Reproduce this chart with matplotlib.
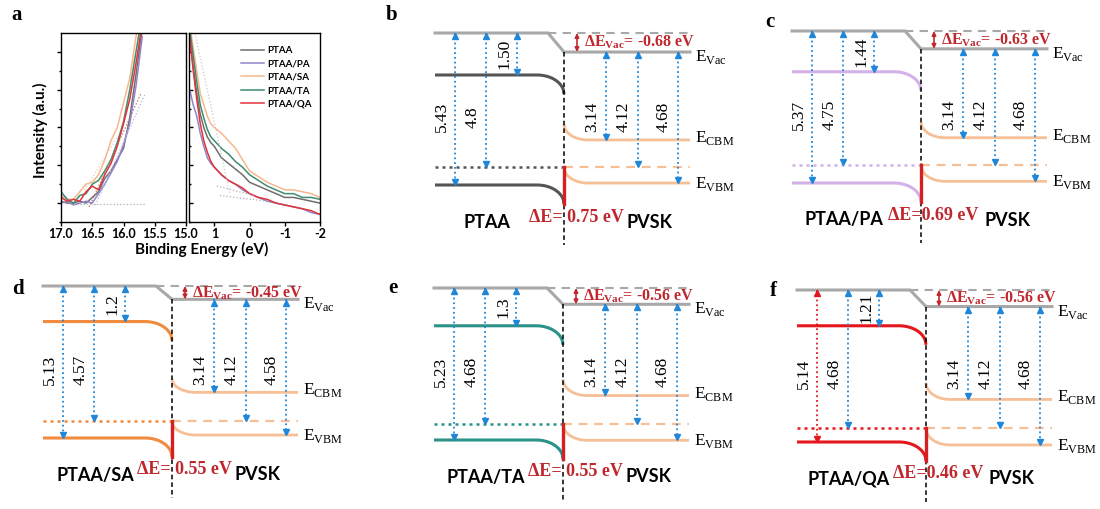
import numpy as np
import matplotlib
matplotlib.use("Agg")
import matplotlib.pyplot as plt

plt.rcParams["mathtext.fontset"] = "custom"
plt.rcParams["mathtext.rm"] = "Liberation Serif"
plt.rcParams["mathtext.bf"] = "Liberation Serif:bold"

SANS = "Lato"
SERIF = "Liberation Serif"

# ---------------- panel a data (UPS spectra) ----------------
series = ["PTAA", "PTAA/PA", "PTAA/SA", "PTAA/TA", "PTAA/QA"]
series_colors = ["#6e6e6e", "#8f86cc", "#f6b78e", "#3f8c70", "#e2333b"]

cutoff_x = [17.0, 16.9, 16.8, 16.7, 16.6, 16.5, 16.4, 16.3, 16.2, 16.1, 16.0, 15.9, 15.8, 15.7]
cutoff_y = {
    "PTAA":    [0.11, 0.10, 0.10, 0.11, 0.10, 0.13, 0.16, 0.23, 0.27, 0.33, 0.39, 0.55, 0.78, 1.02],
    "PTAA/PA": [0.10, 0.11, 0.09, 0.10, 0.11, 0.10, 0.15, 0.20, 0.26, 0.32, 0.41, 0.52, 0.72, 0.98],
    "PTAA/SA": [0.14, 0.12, 0.12, 0.16, 0.20, 0.21, 0.25, 0.33, 0.43, 0.50, 0.63, 0.76, 0.98, 1.20],
    "PTAA/TA": [0.16, 0.12, 0.10, 0.14, 0.15, 0.20, 0.22, 0.27, 0.33, 0.42, 0.53, 0.70, 0.90, 1.10],
    "PTAA/QA": [0.13, 0.11, 0.12, 0.11, 0.16, 0.19, 0.17, 0.25, 0.31, 0.40, 0.52, 0.65, 0.84, 1.05],
}

onset_x = [1.7, 1.6, 1.5, 1.4, 1.3, 1.2, 1.1, 1.0, 0.8, 0.6, 0.4, 0.2, 0.0,
           -0.25, -0.5, -0.75, -1.0, -1.25, -1.5, -1.75, -2.0]
onset_y = {
    "PTAA":    [0.98, 0.82, 0.68, 0.57, 0.50, 0.45, 0.42, 0.40, 0.34, 0.31, 0.28, 0.25, 0.21,
                0.19, 0.17, 0.15, 0.13, 0.13, 0.12, 0.11, 0.10],
    "PTAA/PA": [0.70, 0.62, 0.56, 0.47, 0.40, 0.34, 0.31, 0.29, 0.25, 0.22, 0.20, 0.17, 0.15,
                0.13, 0.11, 0.10, 0.09, 0.08, 0.07, 0.05, 0.04],
    "PTAA/SA": [1.05, 0.92, 0.80, 0.68, 0.62, 0.56, 0.52, 0.50, 0.47, 0.43, 0.39, 0.33, 0.27,
                0.24, 0.21, 0.19, 0.17, 0.17, 0.16, 0.15, 0.13],
    "PTAA/TA": [1.02, 0.88, 0.74, 0.62, 0.55, 0.49, 0.45, 0.43, 0.39, 0.36, 0.32, 0.29, 0.25,
                0.22, 0.19, 0.17, 0.15, 0.15, 0.13, 0.13, 0.12],
    "PTAA/QA": [0.98, 0.80, 0.65, 0.52, 0.43, 0.37, 0.32, 0.29, 0.25, 0.22, 0.20, 0.18, 0.15,
                0.13, 0.12, 0.10, 0.09, 0.08, 0.07, 0.06, 0.04],
}

# dotted fit lines: (x0, y0, x1, y1, colour)
cutoff_fits = [(16.85, 0.095, 15.65, 0.095, "#b0b0b0"),
               (16.55, 0.08, 15.72, 0.68, "#b07060"),
               (16.45, 0.09, 15.65, 0.68, "#b8b4e0"),
               (16.62, 0.17, 16.10, 0.45, "#f6c8aa")]
onset_fits = [(0.93, 0.19, -0.14, 0.14, "#b0b0b0"),
              (0.84, 0.14, -0.50, 0.11, "#b0b0b0"),
              (1.55, 1.00, 0.56, 0.15, "#c8c8c8")]

# ---------------- panels b-f data (energy levels, eV) ----------------
panel_letters = ["b", "c", "d", "e", "f"]
htl_names = ["PTAA", "PTAA/PA", "PTAA/SA", "PTAA/TA", "PTAA/QA"]
htl_colors = ["#555555", "#d3b1e8", "#f08a3c", "#2b928a", "#e5161c"]
homo = [5.43, 5.37, 5.13, 5.23, 5.14]
homo_lbl = ["5.43", "5.37", "5.13", "5.23", "5.14"]
fermi = [4.8, 4.75, 4.57, 4.68, 4.68]
fermi_lbl = ["4.8", "4.75", "4.57", "4.68", "4.68"]
lumo = [1.50, 1.44, 1.2, 1.3, 1.21]
lumo_lbl = ["1.50", "1.44", "1.2", "1.3", "1.21"]
dvac = [-0.68, -0.63, -0.45, -0.56, -0.56]
dvac_lbl = ["-0.68", "-0.63", "-0.45", "-0.56", "-0.56"]
de_lbl = ["ΔE= 0.75 eV", "ΔE=0.69 eV", "ΔE= 0.55 eV", "ΔE= 0.55 eV", "ΔE=0.46 eV"]
pvsk_cbm = [3.14, 3.14, 3.14, 3.14, 3.14]
pvsk_fermi = [4.12, 4.12, 4.12, 4.12, 4.12]
pvsk_vbm = [4.68, 4.68, 4.58, 4.68, 4.68]
pvsk_vbm_lbl = ["4.68", "4.68", "4.58", "4.68", "4.68"]

# pixel anchors (left end of vacuum line) for each diagram
anchors = [(435, 33), (792, 31), (43, 286), (434, 288), (797, 290)]
letter_pos = [(392, 15), (770, 22), (18, 289), (393, 288), (773, 291)]

W, H = 1100, 509
fig = plt.figure(figsize=(11, 5.09), dpi=100)


def px_axes(x0, y0, x1, y1):
    return fig.add_axes([x0 / W, 1 - y1 / H, (x1 - x0) / W, (y1 - y0) / H])


# ---------------- panel a ----------------
axl = px_axes(61, 33, 186, 222)
axr = px_axes(189, 33, 320, 222)
for name, col in zip(series, series_colors):
    axl.plot(cutoff_x, cutoff_y[name], color=col, lw=1.1)
    axr.plot(onset_x, onset_y[name], color=col, lw=1.1, label=name)
for x0, y0, x1, y1, c in cutoff_fits:
    axl.plot([x0, x1], [y0, y1], ls=":", lw=0.9, color=c)
for x0, y0, x1, y1, c in onset_fits:
    axr.plot([x0, x1], [y0, y1], ls=":", lw=0.9, color=c)

axl.set_xlim(17.0, 15.0)
axr.set_xlim(1.72, -2.0)
for ax in (axl, axr):
    ax.set_ylim(0, 1)
    ax.set_yticks(np.arange(0.1, 1.0, 0.2))
    ax.set_yticks(np.arange(0.0, 1.0, 0.1), minor=True)
    ax.set_yticklabels([])
    for sp in ax.spines.values():
        sp.set_linewidth(1.0)
    ax.tick_params(axis="x", direction="out", length=3, width=1, pad=1)
axl.set_xticks([17.0, 16.5, 16.0, 15.5, 15.0])
axl.set_xticklabels(["17.0", "16.5", "16.0", "15.5", "15.0"], fontfamily=SANS,
                    fontweight="bold", fontsize=9)
axr.set_xticks([1, 0, -1, -2])
axr.set_xticklabels(["1", "0", "-1", "-2"], fontfamily=SANS, fontweight="bold", fontsize=9)
axl.tick_params(axis="y", which="both", direction="out", length=3, width=1)
axl.tick_params(axis="y", which="minor", length=1.5)
axr.tick_params(axis="y", which="both", direction="in", length=3, width=1)
axr.tick_params(axis="y", which="minor", length=1.5)
axr.legend(loc="upper left", bbox_to_anchor=((241 - 189) / 131, 1 - (46 - 33) / 189),
           frameon=False, handlelength=2.4, handletextpad=0.3,
           labelspacing=0.45, borderaxespad=0, borderpad=0,
           prop={"family": SANS, "weight": "bold", "size": 7})

fig.text(17 / W, 1 - 15 / H, "a", fontfamily=SERIF, fontweight="bold", fontsize=15,
         ha="center", va="center")
fig.text(40 / W, 1 - 130 / H, "Intensity (a.u.)", rotation=90, fontfamily=SANS,
         fontweight="bold", fontsize=11, ha="center", va="center")
fig.text(202 / W, 1 - 249 / H, "Binding Energy (eV)", fontfamily=SANS,
         fontweight="bold", fontsize=11, ha="center", va="center")

# ---------------- panels b-f ----------------
X_IF, X_END = 129, 255
X_BEND_L, X_BEND_R = 102, 153
X_SLOPE = 113
ARROW_X = [20, 51, 82, 171, 203, 243]
BLUE = "#1f86d8"
RED = "#c0272d"
VAC = "#a8a8a8"
PVSK = "#f6bf96"


def left_band(ax, e, bend, **kw):
    t = np.linspace(0, 1, 40)
    xs = np.concatenate([[0], X_BEND_L + (X_IF - X_BEND_L) * t])
    ys = np.concatenate([[e], e - bend * (1 - np.sqrt(1 - t ** 2))])
    ax.plot(xs, ys, solid_capstyle="butt", **kw)


def right_band(ax, e, bend, **kw):
    t = np.linspace(0, 1, 40)
    xs = np.concatenate([X_IF + (X_BEND_R - X_IF) * t, [X_END]])
    ys = np.concatenate([e + bend * (1 - np.sqrt(1 - (1 - t) ** 2)), [e]])
    ax.plot(xs, ys, solid_capstyle="butt", **kw)


def varrow(ax, x, y_top, y_bot, s, color):
    ax.plot([x, x], [y_top, y_bot], ls=":", lw=1.3, color=color)
    ax.plot([x], [y_top - 3.2 / s], marker="^", ms=4.5, color=color, mec=color)
    ax.plot([x], [y_bot + 3.2 / s], marker="v", ms=4.5, color=color, mec=color)


def vlabel(ax, x, y, txt):
    ax.text(x, y, txt, rotation=90, fontfamily=SERIF, fontsize=12.5,
            ha="center", va="center")


for i in range(5):
    x0, y0 = anchors[i]
    s = 152.0 / homo[i]          # px per eV
    y_bot = min(y0 + 215, H)
    ax = px_axes(x0 - 40, y0 - 35, x0 + 310, y_bot)
    ax.set_xlim(-40, 310)
    ax.set_ylim(-(y_bot - y0) / s, 35 / s)
    ax.axis("off")

    dv = dvac[i]
    bend_l = 19 / s
    col = htl_colors[i]
    r_cbm = dv - pvsk_cbm[i]
    r_ef = dv - pvsk_fermi[i]
    r_vbm = dv - pvsk_vbm[i]
    bend_r = r_ef - r_vbm

    # vacuum level
    ax.plot([0, X_SLOPE, X_IF, X_END], [0, 0, dv, dv], color=VAC, lw=2.2,
            solid_joinstyle="miter")
    ax.plot([X_SLOPE, X_END], [0, 0], color=VAC, lw=1.5, ls=(0, (4, 3)))

    # HTL levels
    left_band(ax, -lumo[i], bend_l, color=col, lw=2.2)
    left_band(ax, -homo[i], bend_l, color=col, lw=2.2)
    ax.plot([0, X_IF], [-fermi[i], -fermi[i]], color=col, lw=1.8, ls=(0, (1.2, 1.6)))

    # perovskite levels
    right_band(ax, r_cbm, bend_r, color=PVSK, lw=2.0)
    right_band(ax, r_vbm, bend_r, color=PVSK, lw=2.0)
    ax.plot([X_IF, X_END], [r_ef, r_ef], color=PVSK, lw=1.6, ls=(0, (4, 3)))

    # interface
    ax.plot([X_IF, X_IF], [dv, -212 / s], color="black", lw=1.1, ls=(0, (3, 2)))
    ax.plot([X_IF, X_IF], [r_ef, -homo[i] - bend_l], color="#d42020", lw=2.4)

    # vacuum offset
    ax.annotate("", xy=(142, dv), xytext=(142, 0),
                arrowprops=dict(arrowstyle="<|-|>", color=RED, lw=1.2,
                                mutation_scale=6, shrinkA=0, shrinkB=0))
    ax.text(149, dv * 0.5, "ΔE$_{\\mathbf{Vac}}$= " + dvac_lbl[i] + " eV", color=RED,
            fontfamily=SERIF, fontweight="bold", fontsize=11.5, ha="left", va="center")

    # arrows
    hcol = "#e5161c" if i == 4 else BLUE
    varrow(ax, ARROW_X[0], 0, -homo[i], s, hcol)
    varrow(ax, ARROW_X[1], 0, -fermi[i], s, BLUE)
    varrow(ax, ARROW_X[2], 0, -lumo[i], s, BLUE)
    varrow(ax, ARROW_X[3], dv, r_cbm, s, BLUE)
    varrow(ax, ARROW_X[4], dv, r_ef, s, BLUE)
    varrow(ax, ARROW_X[5], dv, r_vbm, s, BLUE)

    vlabel(ax, ARROW_X[0] - 13, -84 / s, homo_lbl[i])
    vlabel(ax, ARROW_X[1] - 13, -84 / s, fermi_lbl[i])
    vlabel(ax, ARROW_X[2] - 13, -lumo[i] / 2, lumo_lbl[i])
    vlabel(ax, ARROW_X[3] - 14, -84 / s, "3.14")
    vlabel(ax, ARROW_X[4] - 14, -84 / s, "4.12")
    vlabel(ax, ARROW_X[5] - 14, -84 / s, pvsk_vbm_lbl[i])

    # level names
    ax.text(260, dv - 5 / s, "E$_{\\mathrm{Vac}}$", fontfamily=SERIF, fontsize=12.5,
            ha="left", va="center")
    ax.text(260, r_cbm + 2 / s, "E$_{\\mathrm{CBM}}$", fontfamily=SERIF, fontsize=12.5,
            ha="left", va="center")
    ax.text(260, r_vbm - 1 / s, "E$_{\\mathrm{VBM}}$", fontfamily=SERIF, fontsize=12.5,
            ha="left", va="center")

    ax.text(52, -189 / s, htl_names[i], fontfamily=SANS, fontweight="bold", fontsize=13,
            ha="center", va="center")
    ax.text(215, -189 / s, "PVSK", fontfamily=SANS, fontweight="bold", fontsize=13,
            ha="center", va="center")
    ax.text(141, -184 / s, de_lbl[i], color=RED, fontfamily=SERIF, fontweight="bold",
            fontsize=13, ha="center", va="center")

    lx, ly = letter_pos[i]
    fig.text(lx / W, 1 - ly / H, panel_letters[i], fontfamily=SERIF, fontweight="bold",
             fontsize=15, ha="center", va="center")

fig.savefig("out.png", dpi=100)
